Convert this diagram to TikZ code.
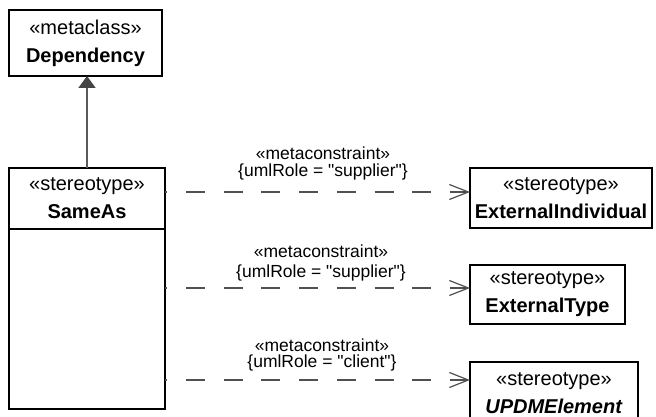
\documentclass[tikz,border=0pt]{standalone}
\usepackage{fontspec}
\setmainfont{Liberation Sans}
\newfontfamily\plainsans{Liberation Sans}
\usetikzlibrary{arrows.meta}
\definecolor{conn}{HTML}{505050}
\definecolor{gen}{HTML}{5A5A5A}
\definecolor{genhead}{HTML}{444444}
\begin{document}
\begin{tikzpicture}[x=1pt,y=-1pt,
  box/.style={draw=black, line width=1.3pt, fill=white, inner sep=0pt, outer sep=0pt, align=center,
    font=\fontsize{20}{28}\selectfont},
  lbl/.style={inner sep=0pt, align=center, font=\plainsans\fontsize{17.5}{17}\selectfont},
  depline/.style={draw=conn, line width=1.2pt, dash pattern=on 19pt off 18.7pt, dash phase=16.7pt,
    -{Straight Barb[length=19pt,width=15pt]}},
  genline/.style={draw=gen, line width=1.9pt, -{Triangle[length=12pt,width=17pt,fill=genhead,color=genhead]}}
]
\useasboundingbox (0,0) rectangle (656,417);
\clip (0,0) rectangle (656,417);
\fill[white] (0,0) rectangle (656,417);

\node[box, anchor=north west, minimum width=153pt, minimum height=66pt] (dep) at (9,10)
  {«metaclass»\\\textbf{Dependency}};
\node[box, anchor=north west, minimum width=156pt, minimum height=61pt] (sameas) at (9,168)
  {«stereotype»\\\textbf{SameAs}};
\node[box, anchor=north, minimum width=156pt, minimum height=180pt] (sameasbody) at (sameas.south) {};

\node[box, anchor=north west, minimum width=182pt, minimum height=60pt] (ext1) at (470,168)
  {«stereotype»\\\textbf{ExternalIndividual}};
\node[box, anchor=north west, minimum width=155pt, minimum height=59pt] (ext2) at (470,265)
  {«stereotype»\\\textbf{ExternalType}};
\node[box, anchor=north west, minimum width=168pt, minimum height=62pt] (ext3) at (470,362)
  {«stereotype»\\\textbf{\textit{UPDMElement}}};

\draw[genline] (sameas.north) -- (sameas.north |- dep.south);

\coordinate (r1) at (0,192);
\coordinate (r2) at (0,288);
\coordinate (r3) at (0,380);
\draw[depline] (sameas.east |- r1) -- (ext1.west |- r1);
\draw[depline] (sameasbody.east |- r2) -- (ext2.west |- r2);
\draw[depline] (sameasbody.east |- r3) -- (ext3.west |- r3);

\node[lbl] (l1) at (323,163.5) {«metaconstraint»\\\{umlRole = "supplier"\}};
\node[lbl] (l2) at (321,263) {«metaconstraint»\\[3pt]\{umlRole = "supplier"\}};
\node[lbl] (l3) at (322,355) {«metaconstraint»\\[-1pt]\{umlRole = "client"\}};
\end{tikzpicture}
\end{document}
